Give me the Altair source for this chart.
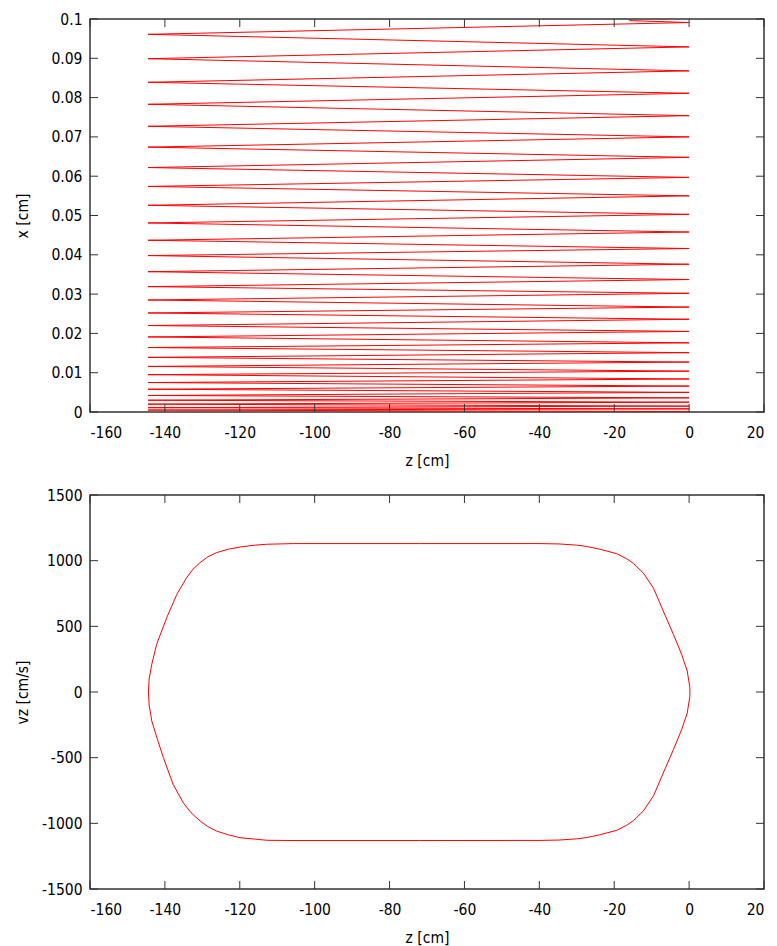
import altair as alt
import pandas as pd

# ---------------- data: top panel (x vs z trajectory turning points) ----------------
traj_z = [0, -144.5, 0, -144.5, 0, -144.5, 0, -144.5, 0, -144.5,
          0, -144.5, 0, -144.5, 0, -144.5, 0, -144.5, 0, -144.5,
          0, -144.5, 0, -144.5, 0, -144.5, 0, -144.5, 0, -144.5,
          0, -144.5, 0, -144.5, 0, -144.5, 0, -144.5, 0, -144.5,
          0, -144.5, 0, -144.5, 0, -144.5, 0, -144.5, 0, -144.5,
          0, -144.5, 0, -144.5, 0, -144.5, 0, -144.5, 0, -16]
traj_x = [0.0001, 0.0005, 0.0008, 0.0011, 0.0015, 0.0020, 0.0025, 0.0030, 0.0036, 0.0042,
          0.0050, 0.0058, 0.0066, 0.0075, 0.0084, 0.0095, 0.0104, 0.0116, 0.0127, 0.0139,
          0.0151, 0.0164, 0.0176, 0.0191, 0.0205, 0.0220, 0.0236, 0.0252, 0.0267, 0.0285,
          0.0302, 0.0319, 0.0337, 0.0357, 0.0376, 0.0398, 0.0416, 0.0437, 0.0458, 0.0481,
          0.0503, 0.0526, 0.0550, 0.0574, 0.0597, 0.0622, 0.0648, 0.0674, 0.0700, 0.0727,
          0.0754, 0.0783, 0.0811, 0.0839, 0.0868, 0.0899, 0.0929, 0.0961, 0.0991, 0.0996]

# ---------------- data: bottom panel (vz vs z phase loop) ----------------
loop_z = [0.2, 0.2, -0.5, -2.0, -4.2, -6.9, -9.5, -12.2, -14.9, -16.7, -19.3, -23.8,
          -27.3, -30.0, -34.5, -39.8, -72.0, -105.0, -112.8, -116.0, -119.9, -123.0,
          -126.2, -128.5, -130.6, -133.0, -135.1, -137.8, -140.4, -142.0, -143.5, -144.2,
          -144.4, -144.2, -143.5, -142.2, -139.5, -136.8, -134.2, -132.5, -130.6, -128.5,
          -126.2, -123.0, -119.9, -116.0, -112.8, -105.6, -72.0, -39.8, -34.5, -30.0, -27.3,
          -23.8, -19.3, -16.7, -14.9, -12.2, -9.5, -6.9, -4.2, -2.0, -0.5, 0.2, 0.2]
loop_vz = [0, -33, -160, -287, -439, -617, -790, -905, -980, -1015, -1053, -1087,
           -1108, -1118, -1127, -1130, -1131, -1131, -1129, -1120, -1110, -1088,
           -1059, -1025, -982, -920, -843, -703, -500, -360, -221, -100,
           0, 100, 211, 363, 566, 744, 870, 935, 985, 1030,
           1061, 1088, 1104, 1118, 1125, 1130, 1130, 1130, 1127, 1118, 1108,
           1087, 1053, 1015, 980, 905, 790, 617, 439, 287, 160, 33, 0]

z_ticks = [-160, -140, -120, -100, -80, -60, -40, -20, 0, 20]
x_ticks = [0, 0.01, 0.02, 0.03, 0.04, 0.05, 0.06, 0.07, 0.08, 0.09, 0.1]
vz_ticks = [-1500, -1000, -500, 0, 500, 1000, 1500]
z_range = [-160, 20]
x_range = [0, 0.1]
vz_range = [-1500, 1500]

top_df = pd.DataFrame({"z": traj_z, "x": traj_x, "i": list(range(len(traj_z)))})
bot_df = pd.DataFrame({"z": loop_z, "vz": loop_vz, "i": list(range(len(loop_z)))})

FONT = "DejaVu Sans Condensed, DejaVu Sans"
FS = 15.5
TICK = 8
TICKCOL = "#333333"
LBL = "'' + datum.value"
W = 674


def panel(df, yfield, ydomain, yvals, ytitle, h):
    xs = alt.Scale(domain=z_range, nice=False, zero=False)
    ys = alt.Scale(domain=ydomain, nice=False, zero=False)
    x_axis = alt.Axis(orient="bottom", values=z_ticks, ticks=False, tickSize=0,
                      domain=False, grid=False, labelPadding=13, labelExpr=LBL,
                      title="z [cm]", titleY=41)
    y_axis = alt.Axis(orient="left", values=yvals, ticks=False, tickSize=0,
                      domain=False, grid=False, labelPadding=8, labelExpr=LBL,
                      title=ytitle, titleX=-60)

    main = alt.Chart(df).mark_line(color="#ff0000", strokeWidth=1).encode(
        x=alt.X("z:Q", scale=xs, axis=x_axis),
        y=alt.Y(f"{yfield}:Q", scale=ys, axis=y_axis),
        order="i:Q",
    )

    # gnuplot-style inward mirror ticks, one layer per frame side
    def ticks(frame, orient, xoff, yoff):
        return alt.Chart(frame).mark_tick(
            orient=orient, size=TICK, thickness=1, color=TICKCOL, opacity=1,
            xOffset=xoff, yOffset=yoff).encode(
            x=alt.X("z:Q", scale=xs, axis=x_axis),
            y=alt.Y(f"{yfield}:Q", scale=ys, axis=y_axis),
        )

    top_t = pd.DataFrame({"z": z_ticks, yfield: [ydomain[1]] * len(z_ticks)})
    bot_t = pd.DataFrame({"z": z_ticks, yfield: [ydomain[0]] * len(z_ticks)})
    left_t = pd.DataFrame({"z": [z_range[0]] * len(yvals), yfield: yvals})
    right_t = pd.DataFrame({"z": [z_range[1]] * len(yvals), yfield: yvals})

    return alt.layer(
        main,
        ticks(top_t, "vertical", 0, TICK / 2),
        ticks(bot_t, "vertical", 0, -TICK / 2),
        ticks(left_t, "horizontal", TICK / 2, 0),
        ticks(right_t, "horizontal", -TICK / 2, 0),
    ).properties(width=W, height=h)


top = panel(top_df, "x", x_range, x_ticks, "x [cm]", 393)
bottom = panel(bot_df, "vz", vz_range, vz_ticks, "vz [cm/s]", 394)

chart = alt.vconcat(top, bottom, spacing=17).properties(
    padding={"left": 14, "top": 11, "right": 5, "bottom": 5}
).configure_view(
    stroke="#333333", strokeWidth=1.5
).configure_axis(
    labelFont=FONT, labelFontSize=FS, labelColor="#000000",
    titleFont=FONT, titleFontSize=FS, titleFontWeight="normal", titleColor="#000000",
)

chart.save("out.html", embed_options={"renderer": "svg", "actions": False})
